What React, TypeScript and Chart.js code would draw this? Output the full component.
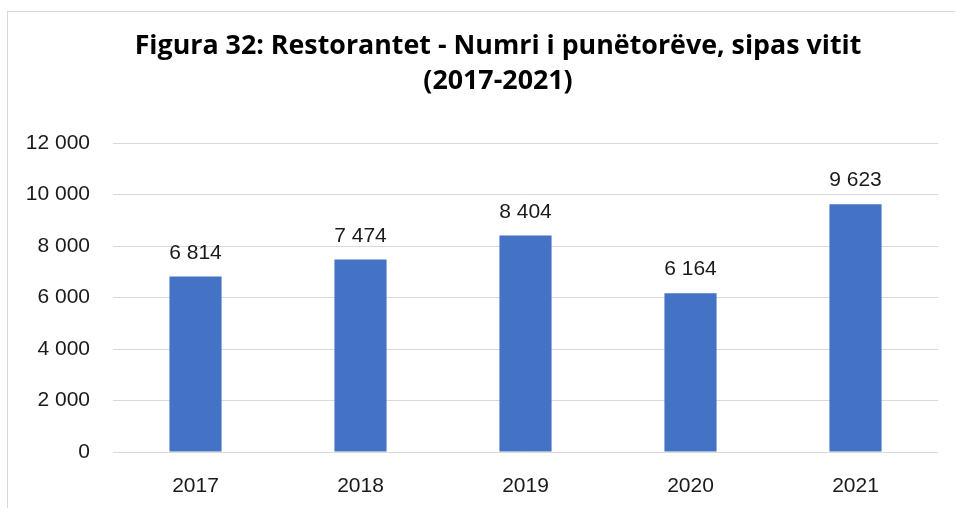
import React, { useEffect, useRef } from "react";
import { Chart, registerables } from "chart.js";

Chart.register(...registerables);

const categories = ["2017", "2018", "2019", "2020", "2021"];
const values = [6814, 7474, 8404, 6164, 9623];
const titleLines = ["Figura 32: Restorantet - Numri i punëtorëve, sipas vitit", "(2017-2021)"];
const yMin = 0;
const yMax = 12000;
const yStep = 2000;

const FONT = "'Liberation Sans', Arial, sans-serif";
const TITLE_FONT = "'Open Sans', 'Liberation Sans', sans-serif";

function fmt(v: number): string {
  const s = Math.round(v).toString();
  return s.replace(/\B(?=(\d{3})+(?!\d))/g, " ");
}

const decorPlugin = {
  id: "decor",
  beforeDraw(chart: any) {
    const ctx = chart.ctx;
    ctx.save();
    ctx.fillStyle = "#ffffff";
    ctx.fillRect(0, 0, chart.width, chart.height);
    ctx.strokeStyle = "#d9d9d9";
    ctx.lineWidth = 1;
    ctx.strokeRect(7.5, 11.5, chart.width + 20, chart.height + 20);
    ctx.fillStyle = "#000000";
    ctx.font = `bold 26.8px ${TITLE_FONT}`;
    ctx.textAlign = "center";
    ctx.textBaseline = "alphabetic";
    ctx.fillText(titleLines[0], 498, 54);
    ctx.fillText(titleLines[1], 498, 89);
    ctx.restore();
  },
  afterDatasetsDraw(chart: any) {
    const ctx = chart.ctx;
    const meta = chart.getDatasetMeta(0);
    ctx.save();
    ctx.fillStyle = "#1a1a1a";
    ctx.font = `21px ${FONT}`;
    ctx.textAlign = "center";
    ctx.textBaseline = "alphabetic";
    meta.data.forEach((el: any, i: number) => {
      ctx.fillText(fmt(values[i]), el.x, el.y - 18);
    });
    ctx.restore();
  },
};

export default function App() {
  const ref = useRef<HTMLCanvasElement | null>(null);
  useEffect(() => {
    if (!ref.current) return;
    const chart = new Chart(ref.current, {
      type: "bar",
      data: {
        labels: categories,
        datasets: [
          {
            data: values,
            backgroundColor: "#4472C4",
            categoryPercentage: 1,
            barPercentage: 0.316,
          },
        ],
      },
      options: {
        animation: false,
        responsive: false,
        maintainAspectRatio: false,
        layout: { padding: { top: 143, right: 17, bottom: 0, left: 0 } },
        plugins: {
          legend: { display: false },
          title: { display: false },
          tooltip: { enabled: false },
        },
        scales: {
          x: {
            grid: { display: false, drawTicks: false },
            border: { display: false },
            ticks: {
              color: "#1a1a1a",
              font: { family: FONT, size: 21 },
              padding: 22,
            },
            afterFit: (s: any) => {
              s.height = 56;
            },
          },
          y: {
            min: yMin,
            max: yMax,
            grid: { color: "#d9d9d9", lineWidth: 1, drawTicks: false },
            border: { display: false },
            ticks: {
              stepSize: yStep,
              color: "#1a1a1a",
              font: { family: FONT, size: 21 },
              padding: 23,
              callback: (v: any) => fmt(Number(v)),
            },
            afterFit: (s: any) => {
              s.width = 113;
            },
          },
        },
      },
      plugins: [decorPlugin],
    });
    return () => chart.destroy();
  }, []);
  return (
    <div style={{ position: "absolute", left: 0, top: 0, width: 955, height: 508 }}>
      <canvas ref={ref} width={955} height={508} style={{ display: "block" }} />
    </div>
  );
}
